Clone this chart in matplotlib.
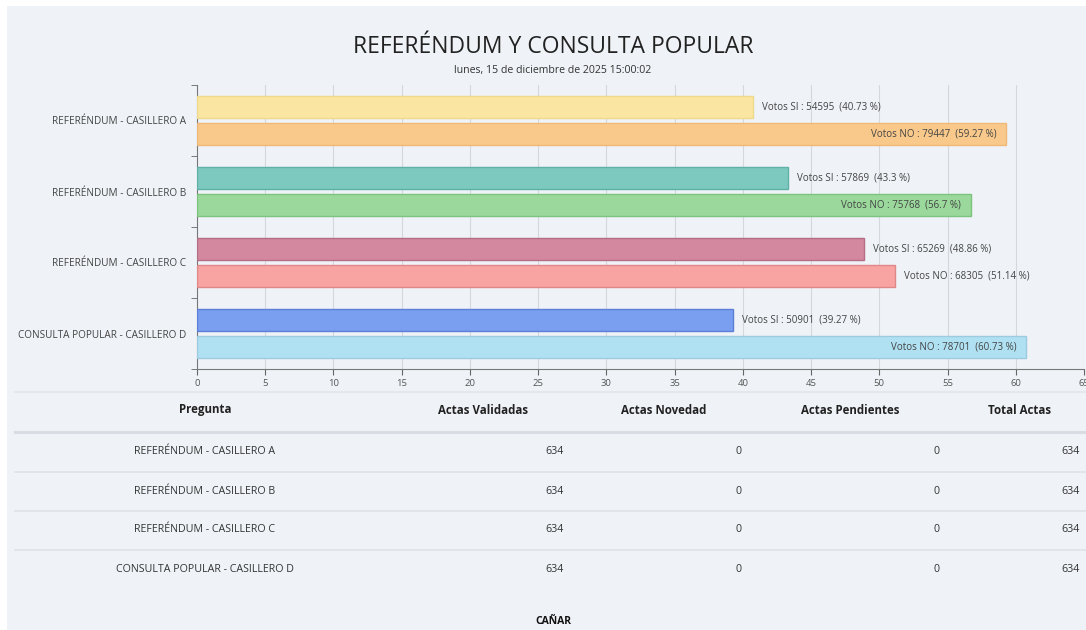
import matplotlib
matplotlib.use("Agg")
import matplotlib.pyplot as plt
from matplotlib.patches import Rectangle
from matplotlib.lines import Line2D
import numpy as np

plt.rcParams['font.family'] = ['Open Sans', 'DejaVu Sans']

# data
categorias = ['REFERÉNDUM - CASILLERO A', 'REFERÉNDUM - CASILLERO B',
              'REFERÉNDUM - CASILLERO C', 'CONSULTA POPULAR - CASILLERO D']
votos_si = [54595, 57869, 65269, 50901]
votos_no = [79447, 75768, 68305, 78701]
pct_si = [40.73, 43.3, 48.86, 39.27]
pct_no = [59.27, 56.7, 51.14, 60.73]
col_si = ['#fae6a2', '#7dc9bf', '#d3889f', '#7b9ff0']
col_no = ['#f9c98b', '#9ad99b', '#f7a4a3', '#b0e1f2']
edge_si = ['#f0d98a', '#5fb0a6', '#b56c84', '#5b7fd6']
edge_no = ['#efb877', '#7cc47d', '#e08888', '#9ccbe0']

# table data
cabecera = ['Pregunta', 'Actas Validadas', 'Actas Novedad', 'Actas Pendientes', 'Total Actas']
actas_validadas = [634, 634, 634, 634]
actas_novedad = [0, 0, 0, 0]
actas_pendientes = [0, 0, 0, 0]
total_actas = [634, 634, 634, 634]

W, H = 1086, 630
fig = plt.figure(figsize=(W / 100, H / 100), dpi=100, facecolor='white')
bg = '#eff2f6'
fig.add_artist(Rectangle((7 / W, 0), 1, 1 - 6 / H, transform=fig.transFigure,
                         facecolor=bg, edgecolor='none', zorder=0))

# title
fig.text(553 / W, 1 - 47 / H, 'REFERÉNDUM Y CONSULTA POPULAR', ha='center', va='center',
         fontsize=16.5, color='#222222')
fig.text(553 / W, 1 - 70 / H, 'lunes, 15 de diciembre de 2025 15:00:02', ha='center', va='center',
         fontsize=7.6, color='#333333')

# chart
left, right, top, bottom = 197, 1084, 85, 369
ax = fig.add_axes([left / W, 1 - bottom / H, (right - left) / W, (bottom - top) / H])
ax.set_facecolor(bg)
y = np.arange(len(categorias))
off = 0.19
h = 0.31
fs_lbl = 7
for i in range(len(categorias)):
    ax.barh(y[i] - off, pct_si[i], height=h, color=col_si[i], edgecolor=edge_si[i], linewidth=1, zorder=3)
    ax.barh(y[i] + off, pct_no[i], height=h, color=col_no[i], edgecolor=edge_no[i], linewidth=1, zorder=3)
    ax.text(pct_si[i] + 0.7, y[i] - off, 'Votos SI : %d  (%s %%)' % (votos_si[i], pct_si[i]),
            ha='left', va='center', fontsize=fs_lbl, color='#444444', zorder=4)
    if pct_no[i] > 55:
        ax.text(pct_no[i] - 0.7, y[i] + off, 'Votos NO : %d  (%s %%)' % (votos_no[i], pct_no[i]),
                ha='right', va='center', fontsize=fs_lbl, color='#444444', zorder=4)
    else:
        ax.text(pct_no[i] + 0.7, y[i] + off, 'Votos NO : %d  (%s %%)' % (votos_no[i], pct_no[i]),
                ha='left', va='center', fontsize=fs_lbl, color='#444444', zorder=4)

ax.set_xlim(0, 65)
ax.set_ylim(len(categorias) - 0.5, -0.5)
ax.set_xticks(np.arange(0, 70, 5))
ax.tick_params(axis='x', labelsize=6.8, colors='#555555', length=4, color='#666666', pad=3)
ax.set_yticks(y)
ax.set_yticklabels(categorias)
ax.tick_params(axis='y', which='major', length=0, labelsize=7.2, labelcolor='#444444', pad=8)
ax.set_yticks(np.arange(-0.5, len(categorias), 1), minor=True)
ax.tick_params(axis='y', which='minor', length=4, color='#666666')
ax.grid(axis='x', color='#d4d7dc', linewidth=0.8, zorder=0)
for s in ['top', 'right']:
    ax.spines[s].set_visible(False)
ax.spines['left'].set_color('#777777')
ax.spines['bottom'].set_color('#777777')

# table
def line(yp, c='#dfe3e8', lw=1.2):
    fig.add_artist(Line2D([15 / W, 1], [1 - yp / H, 1 - yp / H], transform=fig.transFigure,
                          color=c, linewidth=lw, zorder=1))

line(392, '#e4e7ec', 1.5)
line(432, '#d9dde3', 2.2)
for yp in [472, 511, 550]:
    line(yp)

head_x = [205, 483, 664, 850, 1020]
for hx, t in zip(head_x, cabecera):
    fig.text(hx / W, 1 - 410 / H, t, ha='center', va='center', fontsize=8.3,
             fontweight='bold', color='#222222')

row_y = [452, 491, 530, 569]
for i in range(len(categorias)):
    yy = 1 - row_y[i] / H
    fig.text(205 / W, yy, categorias[i], ha='center', va='center', fontsize=7.7, color='#333333')
    fig.text(564 / W, yy, str(actas_validadas[i]), ha='right', va='center', fontsize=7.7, color='#333333')
    fig.text(741 / W, yy, str(actas_novedad[i]), ha='right', va='center', fontsize=7.7, color='#333333')
    fig.text(939 / W, yy, str(actas_pendientes[i]), ha='right', va='center', fontsize=7.7, color='#333333')
    fig.text(1080 / W, yy, str(total_actas[i]), ha='right', va='center', fontsize=7.7, color='#333333')

fig.text(553 / W, 1 - 621 / H, 'CAÑAR', ha='center', va='center', fontsize=7.5,
         fontweight='bold', color='#111111')

fig.savefig('out.png', dpi=100, facecolor=fig.get_facecolor())
